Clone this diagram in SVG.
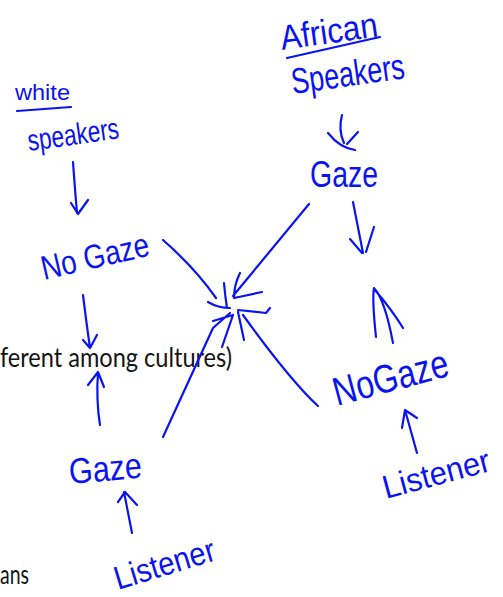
<svg xmlns="http://www.w3.org/2000/svg" width="503" height="597" viewBox="0 0 503 597">
<style>
.bg{font-family:Lato,"Open Sans","Liberation Sans",sans-serif;font-size:27px;fill:#141414}
.hw{font-family:"Liberation Sans","DejaVu Sans",sans-serif;fill:#0a14f0}
.ln{fill:none;stroke:#0a14f0;stroke-width:2.2;stroke-linecap:round;stroke-linejoin:round}
</style>
<rect width="503" height="597" fill="#ffffff"/>
<g id="background-text">
<text class="bg" x="0" y="367" textLength="232" lengthAdjust="spacingAndGlyphs">ferent among cultures)</text>
<text class="bg" x="0" y="584" font-size="28" textLength="29" lengthAdjust="spacingAndGlyphs">ans</text>
</g>
<g id="white-speakers">
<text class="hw" x="15" y="100" font-size="22" textLength="55" lengthAdjust="spacingAndGlyphs">white</text>
<path class="ln" d="M17,111 L71,107"/>
<text class="hw" x="29" y="151" font-size="30" textLength="92" lengthAdjust="spacingAndGlyphs" transform="rotate(-8 29 151)">speakers</text>
</g>
<g id="no-gaze-left">
<text class="hw" x="44" y="280" font-size="34" textLength="110" lengthAdjust="spacingAndGlyphs" transform="rotate(-13 44 280)">No Gaze</text>
</g>
<g id="gaze-left">
<text class="hw" x="70" y="484" font-size="36" textLength="73" lengthAdjust="spacingAndGlyphs" transform="rotate(-5 70 484)">Gaze</text>
</g>
<g id="listener-left">
<text class="hw" x="118" y="590" font-size="33" textLength="104" lengthAdjust="spacingAndGlyphs" transform="rotate(-17 118 590)">Listener</text>
</g>
<g id="african-speakers">
<text class="hw" x="282" y="50" font-size="35" textLength="98" lengthAdjust="spacingAndGlyphs" transform="rotate(-8 282 50)">African</text>
<path class="ln" d="M287,58 L380,37"/>
<text class="hw" x="293" y="94" font-size="36" textLength="114" lengthAdjust="spacingAndGlyphs" transform="rotate(-8 293 94)">Speakers</text>
</g>
<g id="gaze-right">
<text class="hw" x="310" y="187" font-size="36" textLength="68" lengthAdjust="spacingAndGlyphs">Gaze</text>
</g>
<g id="nogaze-right">
<text class="hw" x="337" y="406" font-size="40" textLength="118" lengthAdjust="spacingAndGlyphs" transform="rotate(-15 337 406)">NoGaze</text>
</g>
<g id="listener-right">
<text class="hw" x="386" y="499" font-size="33" textLength="110" lengthAdjust="spacingAndGlyphs" transform="rotate(-15 386 499)">Listener</text>
</g>
<g id="connectors">
<path class="ln" d="M73,162 Q75,190 77,213 M71,203 L78,214 L88,200"/>
<path class="ln" d="M83,295 Q86,320 90,348 M83,340 L90,348 L97,335"/>
<path class="ln" d="M100,425 Q96,400 98,372 M88,385 L98,372 L104,387"/>
<path class="ln" d="M132,533 L124,492 M118,502 L125,492 L137,505"/>
<path class="ln" d="M342,115 Q338,130 344,143 M328,133 Q340,148 355,150 M358,132 L347,144"/>
<path class="ln" d="M353,202 Q358,228 363,253 M350,239 L362,253 M374,227 L366,252"/>
<path class="ln" d="M309,204 L233,296 M240,273 Q234,285 234,298 L262,292"/>
<path class="ln" d="M163,240 Q195,268 216,298 M224,283 Q225,295 227,308 M208,302 Q218,308 230,308"/>
<path class="ln" d="M163,437 L213,328 L230,313 M213,321 L233,315 M222,347 L233,315"/>
<path class="ln" d="M318,406 Q290,380 243,315 M238,310 L266,313 L270,308 M238,312 L244,340"/>
<path class="ln" d="M417,453 L405,410 M402,428 L405,410 L417,418"/>
<path class="ln" d="M376,337 Q372,300 374,288 Q385,300 393,343 M375,290 Q392,310 403,328"/>
</g>
</svg>
